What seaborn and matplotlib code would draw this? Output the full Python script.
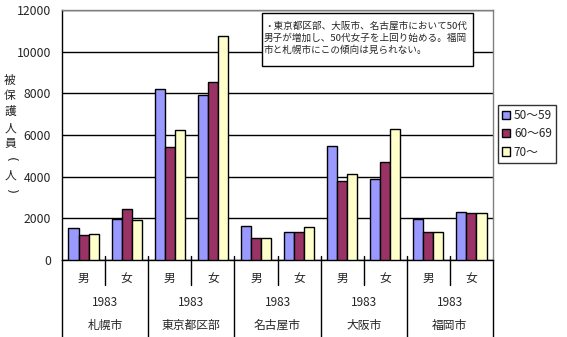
import matplotlib
matplotlib.use("Agg")
import matplotlib.pyplot as plt
import seaborn as sns
import pandas as pd
from matplotlib.patches import Rectangle

# ---- data ----
cities = ['札幌市', '東京都区部', '名古屋市', '大阪市', '福岡市']
sexes = ['男', '女']
year_label = '1983'
ages = ['50～59', '60～69', '70～']
v50 = [1520, 1990, 8200, 7900, 1620, 1330, 5470, 3870, 1990, 2290]
v60 = [1190, 2430, 5410, 8530, 1040, 1330, 3780, 4690, 1330, 2240]
v70 = [1230, 1900, 6230, 10740, 1040, 1570, 4110, 6270, 1330, 2240]
yticks = [0, 2000, 4000, 6000, 8000, 10000, 12000]
ylabel = '被保護人員（人）'
note = ('・東京都区部、大阪市、名古屋市において50代\n'
        '男子が増加し、50代女子を上回り始める。福岡\n'
        '市と札幌市にこの傾向は見られない。')
colors = ['#9999FF', '#993366', '#FFFFCC']

groups = [f'{c}-{s}' for c in cities for s in sexes]
rows = []
for vals, age in zip([v50, v60, v70], ages):
    for g, v in zip(groups, vals):
        rows.append({'group': g, 'age': age, 'value': v})
df = pd.DataFrame(rows)

sns.set_theme(style='white')
plt.rcParams['font.family'] = ['Noto Sans CJK JP', 'DejaVu Sans']

fig = plt.figure(figsize=(5.67, 3.37), dpi=100)
W, H = 567, 337
ax = fig.add_axes([62 / W, 1 - 260 / H, (493 - 62) / W, 250 / H])

sns.barplot(data=df, x='group', y='value', hue='age', order=groups,
            hue_order=ages, palette=colors, width=0.7, saturation=1,
            edgecolor='black', linewidth=1, ax=ax, zorder=3)

handles, labels = ax.get_legend_handles_labels()
if ax.get_legend() is not None:
    ax.get_legend().remove()

ax.set_xlim(-0.5, len(groups) - 0.5)
ax.set_ylim(0, 12000)
ax.set_yticks(yticks)
ax.set_yticklabels([str(t) for t in yticks], fontsize=8.8)
ax.tick_params(axis='y', length=0, pad=8)
ax.set_xticks([])
ax.set_xlabel('')
ax.set_ylabel('')
ax.yaxis.grid(True, color='black', linewidth=1)
ax.set_axisbelow(True)
for side in ['top', 'right']:
    ax.spines[side].set_color('#808080')
    ax.spines[side].set_linewidth(1)
for side in ['left', 'bottom']:
    ax.spines[side].set_color('black')
    ax.spines[side].set_linewidth(1)

# multi-level category axis
tr = ax.get_xaxis_transform()
for i, g in enumerate(groups):
    ax.text(i, -0.072, g.split('-')[1], transform=tr, ha='center', va='center',
            fontsize=8.5, clip_on=False)
for j, c in enumerate(cities):
    xc = 2 * j + 0.5
    ax.text(xc, -0.168, year_label, transform=tr, ha='center', va='center',
            fontsize=8.5, clip_on=False)
    ax.text(xc, -0.262, c, transform=tr, ha='center', va='center',
            fontsize=8.5, clip_on=False)
    ax.plot([2 * j + 0.5] * 2, [0.016, -0.1], transform=tr, color='black',
            lw=1, clip_on=False)
for k in range(len(cities) + 1):
    xs = 2 * k - 0.5
    ax.plot([xs] * 2, [0.016 if 0 < k < len(cities) else 0, -0.31],
            transform=tr, color='black', lw=1, clip_on=False)

# vertical y label (stacked characters, brackets turned as in vertical writing)
bracket_map = {'（': '(', '）': ')'}
y0, step = 80, 15.9
for n, ch in enumerate(ylabel):
    if ch in bracket_map:
        fig.text(10 / W, 1 - (y0 + n * step) / H, bracket_map[ch],
                 ha='center', va='center', fontsize=9, rotation=-90,
                 family='DejaVu Sans')
    else:
        fig.text(10 / W, 1 - (y0 + n * step) / H, ch, ha='center',
                 va='center', fontsize=8.5)

# annotation box
fig.add_artist(Rectangle((262 / W, 1 - 66 / H), 211 / W, 53 / H,
                         transform=fig.transFigure, facecolor='white',
                         edgecolor='black', lw=1, zorder=5))
fig.text(264 / W, 1 - 21 / H, note, ha='left', va='top', fontsize=6.9,
         linespacing=1.38, zorder=6)

# legend
leg = fig.legend(handles, labels, loc='upper left',
                 bbox_to_anchor=(498 / W, 1 - 105 / H), fontsize=8.5,
                 frameon=True, fancybox=False, handlelength=0.7,
                 handleheight=0.7, handletextpad=0.3, borderpad=0.35,
                 labelspacing=0.45, borderaxespad=0)
leg.get_frame().set_edgecolor('black')
leg.get_frame().set_linewidth(1)

fig.savefig('out.png', dpi=100)
